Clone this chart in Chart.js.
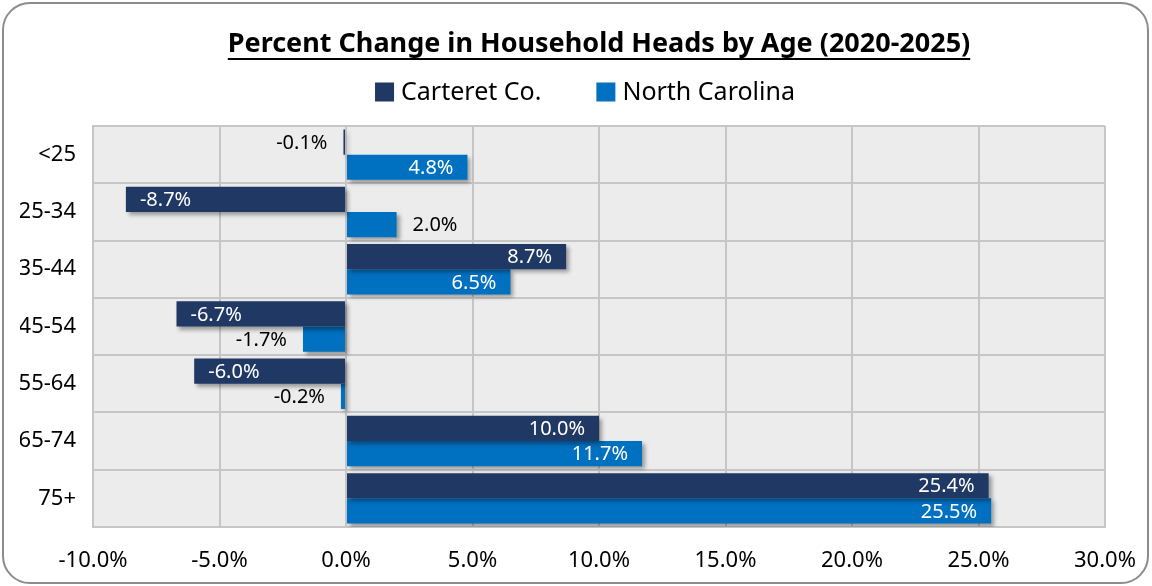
<!DOCTYPE html>
<html lang="en">
<head>
<meta charset="UTF-8">
<title>Percent Change in Household Heads by Age (2020-2025)</title>
<style>
  * {box-sizing:border-box;margin:0;padding:0;}
  body {background:#fff;width:1152px;height:586px;overflow:hidden;}
  .frame {position:absolute;left:2px;top:2px;width:1147px;height:582px;border:2px solid #8c8c8c;border-radius:28px;background:#fff;}
  .chart-box {position:absolute;left:0;top:0;width:1152px;height:586px;}
</style>
</head>
<body>
<div class="frame"></div>
<div class="chart-box"><canvas id="hhChart"></canvas></div>
<script src="https://cdn.jsdelivr.net/npm/chart.js@4.4.1/dist/chart.umd.min.js"></script>
<script>
const chartTitle = 'Percent Change in Household Heads by Age (2020-2025)';
const ageGroups = ['<25','25-34','35-44','45-54','55-64','65-74','75+'];
const carteret = [-0.1,-8.7,8.7,-6.7,-6.0,10.0,25.4];
const northCarolina = [4.8,2.0,6.5,-1.7,-0.2,11.7,25.5];
const xTicks = [-10,-5,0,5,10,15,20,25,30];

const FONT = "'Noto Sans', sans-serif";

// soft shadow under bars, like the spreadsheet original
const barShadow = {
  id:'barShadow',
  beforeDatasetsDraw(chart){
    const ctx = chart.ctx;
    ctx.save();
    ctx.shadowColor = 'rgba(0,0,0,0.35)';
    ctx.shadowBlur = 4;
    ctx.shadowOffsetX = 3;
    ctx.shadowOffsetY = 3;
  },
  afterDatasetsDraw(chart){ chart.ctx.restore(); }
};

// plot background fill
const plotBg = {
  id:'plotBg',
  beforeDraw(chart){
    const a = chart.chartArea, ctx = chart.ctx;
    ctx.save();
    ctx.fillStyle = '#ececec';
    ctx.fillRect(a.left, a.top, a.right - a.left, a.bottom - a.top);
    ctx.restore();
  }
};

// underlined title + legend row (built-in ones can't be placed/spaced like the original)
const header = {
  id:'header',
  afterDraw(chart){
    const ctx = chart.ctx;
    ctx.save();
    ctx.font = 'bold 27px ' + FONT;
    ctx.textAlign = 'center';
    ctx.textBaseline = 'middle';
    ctx.fillStyle = '#000';
    const tw = ctx.measureText(chartTitle).width;
    const tx = 599;
    ctx.fillText(chartTitle, tx, 44);
    ctx.fillRect(tx - tw/2, 58, tw, 2);

    const legY = 92, legX = 585, box = 19, gapBox = 7, gapItem = 55;
    ctx.font = '25px ' + FONT;
    ctx.textAlign = 'left';
    const items = chart.data.datasets.map(ds => ({
      label:ds.label, color:ds.backgroundColor,
      w: box + gapBox + ctx.measureText(ds.label).width
    }));
    const total = items.reduce((s, it) => s + it.w, 0) + gapItem * (items.length - 1);
    let x = legX - total / 2;
    items.forEach(it => {
      ctx.fillStyle = it.color;
      ctx.fillRect(x, legY - box/2, box, box);
      ctx.fillStyle = '#000';
      ctx.fillText(it.label, x + box + gapBox, legY + 1);
      x += it.w + gapItem;
    });
    ctx.restore();
  }
};

// value labels: inside end (white) for long bars, outside end (black) for short ones
const valueLabels = {
  id:'valueLabels',
  afterDatasetsDraw(chart){
    const ctx = chart.ctx;
    ctx.save();
    ctx.font = '20px ' + FONT;
    ctx.textBaseline = 'middle';
    chart.data.datasets.forEach((ds, di) => {
      chart.getDatasetMeta(di).data.forEach((bar, i) => {
        const v = ds.data[i];
        const txt = v.toFixed(1) + '%';
        const inside = Math.abs(v) >= 3;
        ctx.fillStyle = inside ? '#fff' : '#000';
        if(v >= 0){
          ctx.textAlign = inside ? 'right' : 'left';
          ctx.fillText(txt, inside ? bar.x - 14 : bar.x + 16, bar.y + 1);
        } else {
          ctx.textAlign = inside ? 'left' : 'right';
          ctx.fillText(txt, inside ? bar.x + 14 : bar.x - 16, bar.y + 1);
        }
      });
    });
    ctx.restore();
  }
};

new Chart(document.getElementById('hhChart'), {
  type:'bar',
  data:{
    labels:ageGroups,
    datasets:[
      {label:'Carteret Co.', data:carteret, backgroundColor:'#203864'},
      {label:'North Carolina', data:northCarolina, backgroundColor:'#0070c0'}
    ]
  },
  options:{
    indexAxis:'y',
    responsive:true,
    maintainAspectRatio:false,
    animation:false,
    devicePixelRatio:1,
    layout:{padding:{left:20, right:47, top:126, bottom:0}},
    datasets:{bar:{barPercentage:1, categoryPercentage:0.88}},
    scales:{
      x:{
        min:-10, max:30,
        afterBuildTicks(scale){ scale.ticks = xTicks.map(v => ({value:v})); },
        ticks:{
          color:'#000', padding:21,
          font:{family:FONT, size:22},
          callback:v => v.toFixed(1) + '%'
        },
        grid:{color:'#c6c6c6', lineWidth:2, drawTicks:false},
        border:{color:'#c6c6c6', width:2},
        afterFit(scale){ scale.height = 59; scale.paddingLeft = 0; scale.paddingRight = 0; }
      },
      y:{
        ticks:{color:'#000', padding:17, font:{family:FONT, size:22}},
        grid:{color:'#c6c6c6', lineWidth:2, drawTicks:false, offset:true},
        border:{color:'#c6c6c6', width:2},
        afterFit(scale){ scale.width = 73; }
      }
    },
    plugins:{
      title:{display:false},
      legend:{display:false},
      tooltip:{enabled:false}
    }
  },
  plugins:[plotBg, barShadow, valueLabels, header]
});
</script>
</body>
</html>
